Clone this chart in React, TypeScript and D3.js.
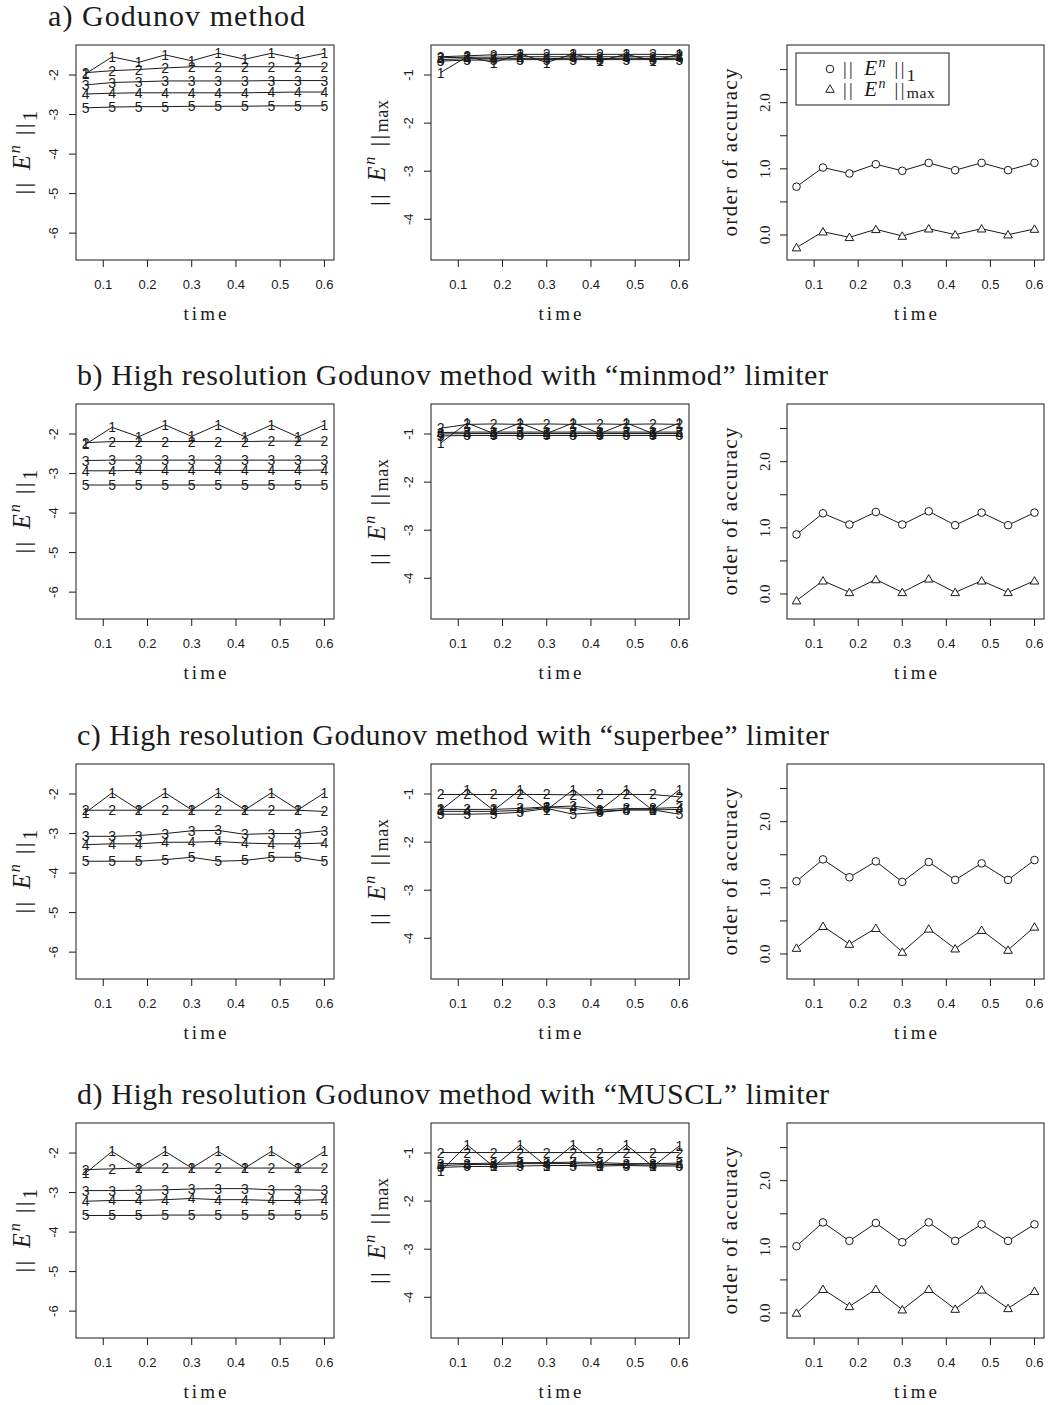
import React from "react";
import * as d3 from "d3";

const TIMES = [0.06, 0.12, 0.18, 0.24, 0.3, 0.36, 0.42, 0.48, 0.54, 0.6];
const X_TICKS = [0.1, 0.2, 0.3, 0.4, 0.5, 0.6];
const L1_TICKS = [-6, -5, -4, -3, -2];
const LMAX_TICKS = [-4, -3, -2, -1];
const ORDER_TICKS = [0, 0.5, 1, 1.5, 2, 2.5];
const ORDER_LABELED = [0, 1, 2];
const SERIES_LABELS = ["1", "2", "3", "4", "5"];

const TITLES = [
  "a) Godunov method",
  "b) High resolution Godunov method with \u201cminmod\u201d limiter",
  "c) High resolution Godunov method with \u201csuperbee\u201d limiter",
  "d) High resolution Godunov method with \u201cMUSCL\u201d limiter",
];

// a) Godunov
const godunovL1 = [
  [-1.97, -1.54, -1.68, -1.49, -1.64, -1.45, -1.6, -1.45, -1.59, -1.45],
  [-1.94, -1.89, -1.86, -1.82, -1.79, -1.79, -1.79, -1.79, -1.79, -1.79],
  [-2.25, -2.19, -2.17, -2.15, -2.15, -2.15, -2.15, -2.14, -2.14, -2.14],
  [-2.48, -2.46, -2.45, -2.45, -2.45, -2.45, -2.45, -2.44, -2.43, -2.43],
  [-2.83, -2.81, -2.8, -2.8, -2.79, -2.79, -2.79, -2.78, -2.78, -2.78],
];
const godunovLmax = [
  [-0.95, -0.62, -0.74, -0.56, -0.74, -0.56, -0.7, -0.57, -0.7, -0.57],
  [-0.62, -0.6, -0.58, -0.57, -0.57, -0.57, -0.57, -0.57, -0.57, -0.58],
  [-0.64, -0.63, -0.63, -0.62, -0.62, -0.62, -0.62, -0.62, -0.62, -0.62],
  [-0.68, -0.66, -0.66, -0.66, -0.66, -0.65, -0.66, -0.65, -0.66, -0.65],
  [-0.71, -0.69, -0.69, -0.68, -0.68, -0.68, -0.68, -0.68, -0.68, -0.68],
];
const godunovOrdL1 = [0.73, 1.02, 0.93, 1.07, 0.97, 1.09, 0.98, 1.09, 0.98, 1.09];
const godunovOrdMax = [-0.19, 0.05, -0.035, 0.086, -0.015, 0.095, 0.005, 0.095, 0.005, 0.09];

// b) minmod
const minmodL1 = [
  [-2.26, -1.83, -2.07, -1.77, -2.06, -1.76, -2.07, -1.77, -2.07, -1.77],
  [-2.22, -2.19, -2.19, -2.19, -2.19, -2.19, -2.19, -2.18, -2.18, -2.18],
  [-2.67, -2.66, -2.66, -2.66, -2.66, -2.66, -2.66, -2.66, -2.66, -2.66],
  [-2.93, -2.93, -2.92, -2.92, -2.92, -2.92, -2.92, -2.92, -2.92, -2.91],
  [-3.29, -3.29, -3.29, -3.29, -3.29, -3.29, -3.29, -3.29, -3.29, -3.29],
];
const minmodLmax = [
  [-1.19, -0.77, -0.99, -0.77, -0.99, -0.77, -0.99, -0.77, -0.99, -0.77],
  [-0.88, -0.8, -0.79, -0.8, -0.79, -0.8, -0.79, -0.8, -0.79, -0.8],
  [-0.97, -0.96, -0.96, -0.96, -0.96, -0.96, -0.96, -0.96, -0.96, -0.96],
  [-1.0, -0.99, -0.99, -0.99, -0.99, -0.99, -0.99, -0.99, -0.99, -0.99],
  [-1.04, -1.03, -1.03, -1.03, -1.03, -1.03, -1.03, -1.03, -1.03, -1.03],
];
const minmodOrdL1 = [0.9, 1.22, 1.05, 1.24, 1.05, 1.25, 1.04, 1.23, 1.04, 1.23];
const minmodOrdMax = [-0.1, 0.2, 0.025, 0.22, 0.025, 0.23, 0.025, 0.2, 0.025, 0.2];

// c) superbee
const superbeeL1 = [
  [-2.47, -1.97, -2.4, -1.97, -2.4, -1.97, -2.4, -1.97, -2.4, -1.97],
  [-2.41, -2.41, -2.41, -2.41, -2.41, -2.41, -2.41, -2.41, -2.41, -2.44],
  [-3.07, -3.07, -3.05, -3.0, -2.93, -2.92, -3.02, -3.0, -3.0, -2.93],
  [-3.28, -3.26, -3.26, -3.22, -3.22, -3.2, -3.24, -3.26, -3.26, -3.24],
  [-3.7, -3.7, -3.7, -3.66, -3.6, -3.7, -3.68, -3.6, -3.6, -3.7],
];
const superbeeLmax = [
  [-1.34, -0.91, -1.34, -0.91, -1.33, -0.91, -1.34, -0.91, -1.34, -0.91],
  [-1.01, -1.01, -1.01, -1.01, -1.01, -1.02, -1.01, -1.01, -1.01, -1.06],
  [-1.32, -1.32, -1.32, -1.3, -1.27, -1.25, -1.33, -1.3, -1.3, -1.28],
  [-1.36, -1.36, -1.36, -1.34, -1.28, -1.3, -1.36, -1.33, -1.33, -1.32],
  [-1.42, -1.42, -1.41, -1.38, -1.3, -1.42, -1.38, -1.33, -1.33, -1.42],
];
const superbeeOrdL1 = [1.1, 1.43, 1.16, 1.4, 1.09, 1.39, 1.12, 1.37, 1.12, 1.42];
const superbeeOrdMax = [0.09, 0.42, 0.15, 0.39, 0.03, 0.38, 0.08, 0.36, 0.06, 0.41];

// d) MUSCL
const musclL1 = [
  [-2.51, -1.96, -2.38, -1.96, -2.38, -1.96, -2.38, -1.96, -2.38, -1.96],
  [-2.42, -2.4, -2.38, -2.38, -2.38, -2.38, -2.38, -2.38, -2.38, -2.38],
  [-2.95, -2.95, -2.94, -2.93, -2.91, -2.9, -2.9, -2.93, -2.93, -2.94],
  [-3.22, -3.2, -3.2, -3.18, -3.15, -3.18, -3.18, -3.2, -3.2, -3.18],
  [-3.58, -3.58, -3.58, -3.57, -3.57, -3.57, -3.57, -3.57, -3.57, -3.57],
];
const musclLmax = [
  [-1.38, -0.83, -1.28, -0.83, -1.28, -0.83, -1.28, -0.83, -1.28, -0.85],
  [-0.99, -0.99, -0.99, -0.99, -0.99, -0.99, -0.99, -0.99, -0.99, -0.99],
  [-1.22, -1.22, -1.21, -1.2, -1.2, -1.19, -1.2, -1.22, -1.22, -1.21],
  [-1.26, -1.24, -1.24, -1.22, -1.22, -1.22, -1.24, -1.24, -1.25, -1.24],
  [-1.3, -1.28, -1.28, -1.27, -1.26, -1.26, -1.27, -1.26, -1.27, -1.27],
];
const musclOrdL1 = [1.01, 1.37, 1.09, 1.36, 1.07, 1.37, 1.09, 1.34, 1.09, 1.34];
const musclOrdMax = [0.0, 0.36, 0.1, 0.36, 0.05, 0.36, 0.06, 0.35, 0.07, 0.33];

const ROWS = [
  { title: TITLES[0], l1: godunovL1, lmax: godunovLmax, ordL1: godunovOrdL1, ordMax: godunovOrdMax },
  { title: TITLES[1], l1: minmodL1, lmax: minmodLmax, ordL1: minmodOrdL1, ordMax: minmodOrdMax },
  { title: TITLES[2], l1: superbeeL1, lmax: superbeeLmax, ordL1: superbeeOrdL1, ordMax: superbeeOrdMax },
  { title: TITLES[3], l1: musclL1, lmax: musclLmax, ordL1: musclOrdL1, ordMax: musclOrdMax },
];

// layout
const W = 1051;
const H = 1405;
const BOX_X = [
  [76, 334],
  [431, 689],
  [787, 1044],
];
const TOP = 45;
const BOTTOM = 260;
const ROW_OFF = [0, 359, 719, 1078];
const X_DOMAIN = [0.0384, 0.6216];
const L1_DOMAIN = [-6.68, -1.24];
const LMAX_DOMAIN = [-4.846, -0.376];
const ORD_DOMAIN = [-0.378, 2.872];
const TITLE_X = [48, 77, 77, 77];
const TITLE_LEN = [257, 751, 752, 752];

const SANS = "'Liberation Sans', Arial, Helvetica, sans-serif";
const SERIF = "'Liberation Serif', 'Times New Roman', serif";
const INK = "#1a1a1a";

function NormText({ x, y, sub, size, rotate, anchor }: any) {
  const s = size;
  const tr = rotate ? `translate(${x},${y}) rotate(-90)` : `translate(${x},${y})`;
  const isMax = sub === "max";
  return (
    <text transform={tr} textAnchor={anchor} fontFamily={SERIF} fill={INK}>
      <tspan fontSize={s * 0.92} letterSpacing={s * 0.12}>{"||"}</tspan>
      <tspan dx={s * 0.45} fontSize={s * 1.05} fontStyle="italic">E</tspan>
      <tspan fontSize={s * 0.7} fontStyle="italic" dx={s * 0.08} dy={-s * 0.42}>n</tspan>
      <tspan dx={s * 0.45} dy={s * 0.42} fontSize={s * 0.92} letterSpacing={s * 0.12}>{"||"}</tspan>
      <tspan fontSize={isMax ? s * 0.78 : s * 0.88} dy={isMax ? s * 0.12 : s * 0.3} letterSpacing={isMax ? s * 0.03 : 0}>
        {sub}
      </tspan>
    </text>
  );
}

function Frame({ x0, x1, top, bottom }: any) {
  return <rect x={x0} y={top} width={x1 - x0} height={bottom - top} fill="none" stroke={INK} strokeWidth={1} />;
}

function XAxis({ xs, bottom }: any) {
  return (
    <g>
      {X_TICKS.map((t) => (
        <g key={t}>
          <line x1={xs(t)} x2={xs(t)} y1={bottom} y2={bottom + 7} stroke={INK} />
          <text x={xs(t)} y={bottom + 24} textAnchor="middle" dominantBaseline="central" fontFamily={SANS} fontSize={13} fill={INK}>
            {t.toFixed(1)}
          </text>
        </g>
      ))}
      <text
        x={(xs.range()[0] + xs.range()[1]) / 2}
        y={bottom + 60}
        textAnchor="middle"
        fontFamily={SERIF}
        fontSize={19}
        textLength={43}
        lengthAdjust="spacing"
        fill={INK}
      >
        time
      </text>
    </g>
  );
}

function ErrorPanel({ data, col, off, domain, ticks, sub }: any) {
  const [x0, x1] = BOX_X[col];
  const top = TOP + off;
  const bottom = BOTTOM + off;
  const xs = d3.scaleLinear().domain(X_DOMAIN).range([x0, x1]);
  const ys = d3.scaleLinear().domain(domain).range([bottom, top]);
  const line = d3
    .line<number>()
    .x((_, i) => xs(TIMES[i]))
    .y((d) => ys(d));
  const labelX = x0 - 23;
  return (
    <g>
      {data.map((s: number[], si: number) => (
        <path key={"l" + si} d={line(s) || ""} fill="none" stroke={INK} strokeWidth={1} />
      ))}
      {data.map((s: number[], si: number) =>
        s.map((v, i) => (
          <text
            key={"t" + si + "-" + i}
            x={xs(TIMES[i])}
            y={ys(v)}
            textAnchor="middle"
            dominantBaseline="central"
            fontFamily={SANS}
            fontSize={14}
            fill={INK}
          >
            {SERIES_LABELS[si]}
          </text>
        ))
      )}
      <Frame x0={x0} x1={x1} top={top} bottom={bottom} />
      {ticks.map((t: number) => (
        <g key={t}>
          <line x1={x0} x2={x0 - 7} y1={ys(t)} y2={ys(t)} stroke={INK} />
          <text
            transform={`translate(${labelX},${ys(t)}) rotate(-90)`}
            textAnchor="middle"
            dominantBaseline="central"
            fontFamily={SANS}
            fontSize={13}
            fill={INK}
          >
            {String(t)}
          </text>
        </g>
      ))}
      <XAxis xs={xs} bottom={bottom} />
      <NormText x={x0 - 46} y={(top + bottom) / 2} sub={sub} size={23} rotate anchor="middle" />
    </g>
  );
}

function trianglePath(cx: number, cy: number, size: number) {
  const sym = d3.symbol().type(d3.symbolTriangle).size(size);
  return { d: sym() || "", transform: `translate(${cx},${cy + 0.8})` };
}

function OrderPanel({ l1, lmax, off, legend }: any) {
  const [x0, x1] = BOX_X[2];
  const top = TOP + off;
  const bottom = BOTTOM + off;
  const xs = d3.scaleLinear().domain(X_DOMAIN).range([x0, x1]);
  const ys = d3.scaleLinear().domain(ORD_DOMAIN).range([bottom, top]);
  const line = d3
    .line<number>()
    .x((_, i) => xs(TIMES[i]))
    .y((d) => ys(d));
  return (
    <g>
      <path d={line(l1) || ""} fill="none" stroke={INK} />
      <path d={line(lmax) || ""} fill="none" stroke={INK} />
      {l1.map((v: number, i: number) => (
        <circle key={"c" + i} cx={xs(TIMES[i])} cy={ys(v)} r={3.8} fill="#fff" stroke={INK} strokeWidth={1} />
      ))}
      {lmax.map((v: number, i: number) => {
        const t = trianglePath(xs(TIMES[i]), ys(v), 32);
        return <path key={"t" + i} d={t.d} transform={t.transform} fill="#fff" stroke={INK} strokeWidth={1} />;
      })}
      <Frame x0={x0} x1={x1} top={top} bottom={bottom} />
      {ORDER_TICKS.map((t) => (
        <line key={t} x1={x0} x2={x0 - 7} y1={ys(t)} y2={ys(t)} stroke={INK} />
      ))}
      {ORDER_LABELED.map((t) => (
        <text
          key={"lab" + t}
          transform={`translate(${x0 - 22},${ys(t)}) rotate(-90)`}
          textAnchor="middle"
          dominantBaseline="central"
          fontFamily={SERIF}
          fontSize={15}
          fill={INK}
        >
          {t.toFixed(1)}
        </text>
      ))}
      <XAxis xs={xs} bottom={bottom} />
      <text
        transform={`translate(${x0 - 50},${(top + bottom) / 2}) rotate(-90)`}
        textAnchor="middle"
        fontFamily={SERIF}
        fontSize={21}
        textLength={168}
        lengthAdjust="spacing"
        fill={INK}
      >
        order of accuracy
      </text>
      {legend && (
        <g>
          <rect x={796} y={top + 8} width={153} height={52} fill="#fff" stroke={INK} />
          <circle cx={830} cy={top + 24} r={3.8} fill="#fff" stroke={INK} />
          {(() => {
            const t = trianglePath(830, top + 44, 32);
            return <path d={t.d} transform={t.transform} fill="#fff" stroke={INK} />;
          })()}
          <NormText x={843} y={top + 30} sub="1" size={20} anchor="start" />
          <NormText x={843} y={top + 51} sub="max" size={20} anchor="start" />
        </g>
      )}
    </g>
  );
}

export default function App() {
  return (
    <svg
      width={W}
      height={H}
      viewBox={`0 0 ${W} ${H}`}
      style={{ position: "absolute", left: 0, top: 0, background: "#fff" }}
    >
      <rect x={0} y={0} width={W} height={H} fill="#fff" />
      {ROWS.map((row, r) => {
        const off = ROW_OFF[r];
        return (
          <g key={r}>
            <text
              x={TITLE_X[r]}
              y={26 + off}
              fontFamily={SERIF}
              fontSize={30}
              textLength={TITLE_LEN[r]}
              lengthAdjust="spacing"
              fill={INK}
            >
              {row.title}
            </text>
            <ErrorPanel data={row.l1} col={0} off={off} domain={L1_DOMAIN} ticks={L1_TICKS} sub="1" />
            <ErrorPanel data={row.lmax} col={1} off={off} domain={LMAX_DOMAIN} ticks={LMAX_TICKS} sub="max" />
            <OrderPanel l1={row.ordL1} lmax={row.ordMax} off={off} legend={r === 0} />
          </g>
        );
      })}
    </svg>
  );
}
